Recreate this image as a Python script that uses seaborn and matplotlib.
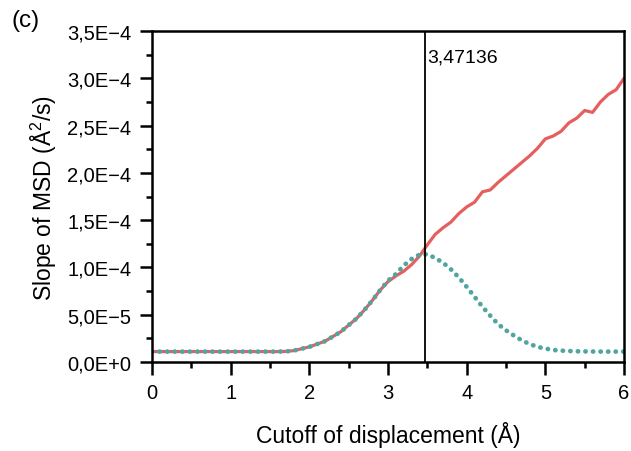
import numpy as np
import pandas as pd
import seaborn as sns
import matplotlib.pyplot as plt
from matplotlib.ticker import FuncFormatter, MultipleLocator

# cutoff grid (Å) and slopes (Å^2/s), in units of 1e-5
cutoff = [round(0.1 * i, 1) for i in range(61)]

slope_all = [1.1] * 17 + [
    1.12, 1.2, 1.4, 1.6, 1.9, 2.2, 2.7, 3.2, 3.9, 4.6,
    5.5, 6.5, 7.6, 8.5, 9.1, 9.6, 10.3, 11.2, 12.4, 13.5,
    14.2, 14.8, 15.7, 16.4, 16.9, 18.0, 18.2, 19.0, 19.7, 20.4,
    21.1, 21.8, 22.6, 23.6, 23.9, 24.4, 25.3, 25.8, 26.6, 26.4,
    27.5, 28.3, 28.8, 30.0]

slope_fit = [1.1] * 17 + [
    1.12, 1.2, 1.4, 1.6, 1.9, 2.2, 2.7, 3.2, 3.9, 4.6,
    5.5, 6.5, 7.6, 8.6, 9.3, 10.2, 10.9, 11.35, 11.4, 11.0,
    10.5, 9.8, 8.95, 7.95, 6.9, 5.85, 4.9, 4.0, 3.35, 2.8,
    2.3, 1.9, 1.6, 1.42, 1.27, 1.2, 1.16, 1.13, 1.12, 1.11,
    1.1, 1.1, 1.1, 1.1]

cut_line = 3.47136

df = pd.DataFrame({
    'cutoff': cutoff,
    'all': np.array(slope_all) * 1e-5,
    'fit': np.array(slope_fit) * 1e-5,
})

sns.set_style('ticks')
plt.rcParams['font.family'] = ['Liberation Sans', 'DejaVu Sans']
plt.rcParams['mathtext.fontset'] = 'custom'
plt.rcParams['mathtext.rm'] = 'Liberation Sans'
plt.rcParams['mathtext.it'] = 'Liberation Sans:italic'
plt.rcParams['text.color'] = 'black'
plt.rcParams['axes.labelcolor'] = 'black'
plt.rcParams['xtick.color'] = 'black'
plt.rcParams['ytick.color'] = 'black'

fig = plt.figure(figsize=(6.31, 4.52), dpi=100)
ax = fig.add_axes([0.2409, 0.1969, 0.7480, 0.7321])

sns.lineplot(data=df, x='cutoff', y='all', ax=ax, color='#E65F5F', lw=2.3)
sns.lineplot(data=df, x='cutoff', y='fit', ax=ax, color='#4FA6A0', lw=3.4)
ax.lines[-1].set_dashes([0.05, 1.55])
ax.lines[-1].set_dash_capstyle('round')

ax.axvline(cut_line, color='black', lw=1.3)
ax.text(cut_line + 0.03, 3.225e-4, '3,47136', fontsize=14,
        va='center', ha='left')

ax.set_xlim(0, 6)
ax.set_ylim(0, 3.5e-4)
ax.xaxis.set_major_locator(MultipleLocator(1))
ax.xaxis.set_minor_locator(MultipleLocator(0.5))
ax.yaxis.set_major_locator(MultipleLocator(5e-5))
ax.yaxis.set_minor_locator(MultipleLocator(2.5e-5))


def sci_comma(v, pos):
    if abs(v) < 1e-12:
        return '0,0E+0'
    exp = int(np.floor(np.log10(abs(v))))
    man = v / 10 ** exp
    sign = '\u2212' if exp < 0 else '+'
    return f'{man:.1f}'.replace('.', ',') + f'E{sign}{abs(exp)}'


ax.yaxis.set_major_formatter(FuncFormatter(sci_comma))

for s in ax.spines.values():
    s.set_linewidth(1.8)
    s.set_color('black')

ax.tick_params(which='major', direction='out', length=9, width=1.8,
               labelsize=14.5, pad=6)
ax.tick_params(which='minor', direction='out', length=4.5, width=1.8)

ax.set_xlabel('Cutoff of displacement (Å)', fontsize=16.5, labelpad=14)
ax.set_ylabel('Slope of MSD (Å$^2$/s)', fontsize=16.5, labelpad=6)

fig.text(0.018, 0.953, '(c)', fontsize=17.5, va='center', ha='left')

fig.savefig('out.png', dpi=100)
